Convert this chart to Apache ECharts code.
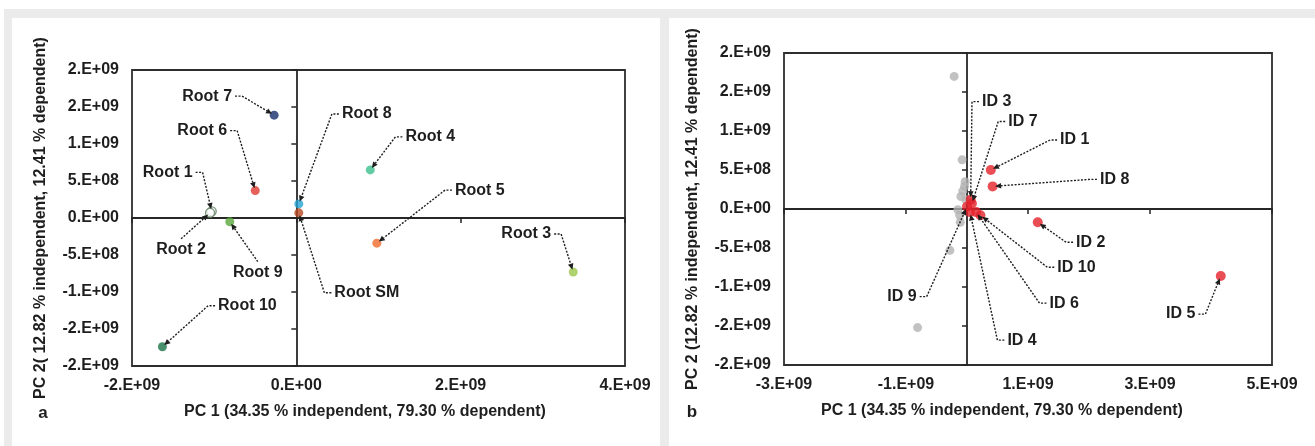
<!DOCTYPE html>
<html>
<head>
<meta charset="utf-8">
<title>PCA score plots</title>
<script src="https://cdn.jsdelivr.net/npm/echarts@6.0.0/dist/echarts.min.js"></script>
<style>
html, body { margin: 0; padding: 0; background: #fff; }
#pcaChart { width: 1315px; height: 446px; }
</style>
</head>
<body>
<div id="pcaChart"></div>
<script>
var FONT = '"Liberation Sans", Arial, sans-serif';
var INK = '#1e1e1e';

// panel a - roots
var rootNames = ['Root 1', 'Root 2', 'Root 3', 'Root 4', 'Root 5', 'Root 6', 'Root 7', 'Root 8', 'Root 9', 'Root 10', 'Root SM'];
var rootPC1 = [-1.03e9, -1.05e9, 3.37e9, 0.90e9, 0.98e9, -0.50e9, -0.27e9, 0.03e9, -0.81e9, -1.63e9, 0.03e9];
var rootPC2 = [0.09e9, 0.07e9, -0.73e9, 0.65e9, -0.34e9, 0.37e9, 1.39e9, 0.19e9, -0.05e9, -1.74e9, 0.07e9];
var rootColors = ['#ffffff', '#ffffff', '#9cc84c', '#3cbf8e', '#ee6a2a', '#e03a30', '#15306b', '#26a3d3', '#5aa83c', '#1b7549', '#b84a20'];
// label offset from its point in px, and the side the leader leaves from
var rootLabelPos = [[-44, -39, 'r'], [-29, 37, 't'], [-47, -38, 'r'], [60, -33, 'l'], [103, -53, 'l'], [-53, -60, 'r'],
  [-67, -19, 'r'], [68, -90, 'l'], [28, 51, 't'], [85, -41, 'l'], [68, 80, 'l']];

// panel b - dependent (red) and independent (grey) variables
var idNames = ['ID 1', 'ID 2', 'ID 3', 'ID 4', 'ID 5', 'ID 6', 'ID 7', 'ID 8', 'ID 9', 'ID 10'];
var idPC1 = [0.39e9, 1.16e9, 0.06e9, 0.05e9, 4.16e9, 0.15e9, 0.08e9, 0.42e9, 0.00e9, 0.22e9];
var idPC2 = [0.50e9, -0.17e9, 0.12e9, -0.04e9, -0.86e9, -0.04e9, 0.07e9, 0.29e9, 0.03e9, -0.08e9];
var idLabelPos = [[84, -30, 'l'], [53, 20, 'l'], [26, -98, 'l'], [52, 128, 'l'], [-40, 38, 'r'], [88, 91, 'l'],
  [51, -82, 'l'], [122, -7, 'l'], [-65, 90, 'r'], [96, 52, 'l']];
var grayPC1 = [-0.21e9, -0.08e9, -0.03e9, -0.04e9, -0.07e9, -0.10e9, -0.02e9, -0.12e9, -0.11e9, -0.15e9, -0.28e9, -0.81e9];
var grayPC2 = [1.70e9, 0.63e9, 0.35e9, 0.29e9, 0.23e9, 0.16e9, 0.12e9, -0.08e9, -0.17e9, -0.01e9, -0.53e9, -1.52e9];

var xTicksA = ['-2.E+09', '0.E+00', '2.E+09', '4.E+09'];
var xTicksB = ['-3.E+09', '-1.E+09', '1.E+09', '3.E+09', '5.E+09'];
var yTicks = ['-2.E+09', '-2.E+09', '-1.E+09', '-5.E+08', '0.E+00', '5.E+08', '1.E+09', '2.E+09', '2.E+09'];

var pc1Title = 'PC 1 (34.35 % independent, 79.30 % dependent)';
var pc2TitleA = 'PC 2( 12.82 % independent, 12.41 % dependent)';
var pc2TitleB = 'PC 2 (12.82 % independent, 12.41 % dependent)';

var FS = 16;
var measureCtx = document.createElement('canvas').getContext('2d');
measureCtx.font = 'bold ' + FS + 'px ' + FONT;

function tickFormatter(labels, min, step) {
	return function (v) {
		var s = labels[Math.round((v - min) / step)];
		return s == null ? '' : s;
	};
}

function labelAxis(grid, dim, min, max, step, labels, name, namePad) {
	return {
		gridIndex: grid, type: 'value', min: min, max: max, interval: step,
		position: dim === 'x' ? 'bottom' : 'left',
		axisLine: { show: false, onZero: false },
		axisTick: { show: false },
		splitLine: { show: false },
		axisLabel: {
			formatter: tickFormatter(labels, min, step), margin: dim === 'x' ? 12 : 13,
			color: INK, fontSize: FS, fontWeight: 'bold', fontFamily: FONT
		},
		name: name, nameLocation: 'middle', nameGap: dim === 'x' ? 38 : 83,
		nameTextStyle: { color: INK, fontSize: FS, fontWeight: 'bold', fontFamily: FONT, padding: namePad }
	};
}

// axis lines through zero, ticks pointing down / left like the excel chart
function zeroAxis(grid, dim, min, max, step) {
	return {
		gridIndex: grid, type: 'value', min: min, max: max, interval: step,
		position: dim === 'x' ? 'top' : 'right',
		axisLine: { show: true, onZero: true, lineStyle: { color: '#262626', width: 1.8 } },
		axisTick: { show: true, inside: true, length: 5, lineStyle: { color: '#262626', width: 1.5 } },
		axisLabel: { show: false },
		splitLine: { show: false }
	};
}

function leaderRenderer(names, layout, r) {
	return function (params, api) {
		var i = params.dataIndex;
		var p = api.coord([api.value(0), api.value(1)]);
		var L = layout[i];
		var cx = p[0] + L[0], cy = p[1] + L[1];
		var half = measureCtx.measureText(names[i]).width / 2;
		var a, b;
		if (L[2] === 'l') { a = [cx - half - 3, cy]; b = [a[0] - 7, cy]; }
		else if (L[2] === 'r') { a = [cx + half + 3, cy]; b = [a[0] + 7, cy]; }
		else { a = [cx, cy - 11]; b = a; }
		var ang = Math.atan2(p[1] - b[1], p[0] - b[0]);
		var tip = [p[0] - Math.cos(ang) * r, p[1] - Math.sin(ang) * r];
		var back = [tip[0] - Math.cos(ang) * 6, tip[1] - Math.sin(ang) * 6];
		var nx = -Math.sin(ang) * 2.8, ny = Math.cos(ang) * 2.8;
		return {
			type: 'group',
			children: [
				{ type: 'polyline', shape: { points: [a, b, back] }, style: { stroke: INK, lineWidth: 1.4, lineDash: [2, 1.5], fill: 'none' } },
				{ type: 'polygon', shape: { points: [tip, [back[0] + nx, back[1] + ny], [back[0] - nx, back[1] - ny]] }, style: { fill: INK } },
				{ type: 'text', style: { text: names[i], x: cx, y: cy, align: 'center', verticalAlign: 'middle', font: 'bold ' + FS + 'px ' + FONT, fill: INK } }
			]
		};
	};
}

var myChart = echarts.init(document.getElementById('pcaChart'));

var rootData = rootNames.map(function (n, i) {
	var c = rootColors[i];
	return {
		name: n, value: [rootPC1[i], rootPC2[i]],
		itemStyle: c === '#ffffff' ? { color: c, borderColor: '#5e7d60', borderWidth: 1.4 } : { color: c }
	};
});

var option = {
	animation: false,
	backgroundColor: '#ffffff',
	graphic: [
		{ type: 'rect', z: -100, shape: { x: 4, y: 9, width: 1311, height: 437 }, style: { fill: '#ebebeb' } },
		{ type: 'rect', z: -99, shape: { x: 12, y: 18, width: 648, height: 428 }, style: { fill: '#ffffff' } },
		{ type: 'rect', z: -99, shape: { x: 669, y: 18, width: 646, height: 428 }, style: { fill: '#ffffff' } },
		{ type: 'text', x: 43, y: 413, style: { text: 'a', font: 'bold 17px ' + FONT, fill: INK, align: 'center', verticalAlign: 'middle' } },
		{ type: 'text', x: 692, y: 412, style: { text: 'b', font: 'bold 17px ' + FONT, fill: INK, align: 'center', verticalAlign: 'middle' } }
	],
	grid: [
		{ left: 132, top: 70, width: 493, height: 296, show: true, borderColor: '#2e2e2e', borderWidth: 1.8, backgroundColor: 'transparent', outerBoundsMode: 'none' },
		{ left: 784, top: 53, width: 488, height: 312, show: true, borderColor: '#2e2e2e', borderWidth: 1.8, backgroundColor: 'transparent', outerBoundsMode: 'none' }
	],
	xAxis: [
		labelAxis(0, 'x', -2e9, 4e9, 2e9, xTicksA, pc1Title, [0, 27, 0, 0]),
		zeroAxis(0, 'x', -2e9, 4e9, 2e9),
		labelAxis(1, 'x', -3e9, 5e9, 2e9, xTicksB, pc1Title, [0, 52, 0, 0]),
		zeroAxis(1, 'x', -3e9, 5e9, 2e9)
	],
	yAxis: [
		labelAxis(0, 'y', -2e9, 2e9, 5e8, yTicks, pc2TitleA, 0),
		zeroAxis(0, 'y', -2e9, 2e9, 5e8),
		labelAxis(1, 'y', -2e9, 2e9, 5e8, yTicks, pc2TitleB, 0),
		zeroAxis(1, 'y', -2e9, 2e9, 5e8)
	],
	series: [
		{
			type: 'scatter', xAxisIndex: 0, yAxisIndex: 0, symbolSize: 9, z: 3,
			data: rootData
		},
		{
			type: 'custom', xAxisIndex: 0, yAxisIndex: 0, z: 4, silent: true,
			renderItem: leaderRenderer(rootNames, rootLabelPos, 2.5),
			data: rootPC1.map(function (x, i) { return [x, rootPC2[i]]; })
		},
		{
			type: 'scatter', xAxisIndex: 2, yAxisIndex: 2, symbolSize: 9, z: 3,
			itemStyle: { color: '#b3b3b3' },
			data: grayPC1.map(function (x, i) { return [x, grayPC2[i]]; })
		},
		{
			type: 'scatter', xAxisIndex: 2, yAxisIndex: 2, symbolSize: 10, z: 3,
			itemStyle: { color: '#e3222a' },
			data: idPC1.map(function (x, i) { return [x, idPC2[i]]; })
		},
		{
			type: 'custom', xAxisIndex: 2, yAxisIndex: 2, z: 4, silent: true,
			renderItem: leaderRenderer(idNames, idLabelPos, 2.5),
			data: idPC1.map(function (x, i) { return [x, idPC2[i]]; })
		}
	]
};
myChart.setOption(option);
</script>
</body>
</html>
